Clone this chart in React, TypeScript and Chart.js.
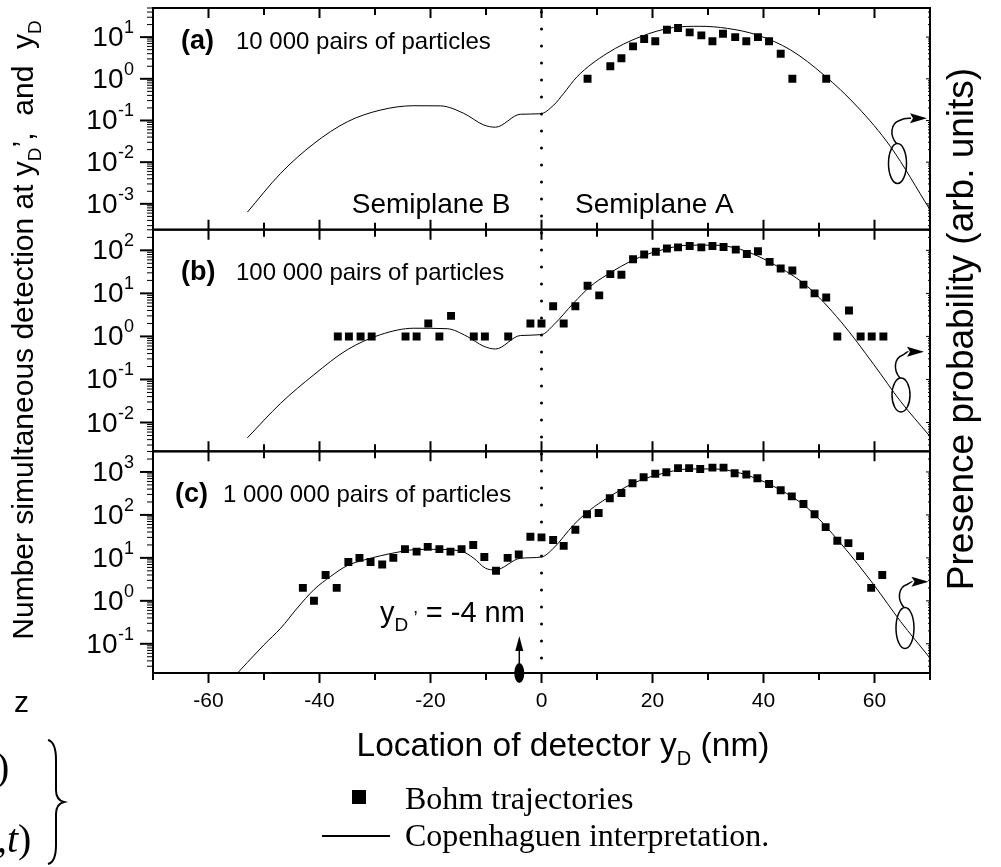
import React, { useEffect, useRef } from 'react';
import { Chart, registerables } from 'chart.js';

Chart.register(...registerables);

// ---------- axis setup ----------
const X_MIN = -70;
const X_MAX = 70;
const xMajorTicks = [-60, -40, -20, 0, 20, 40, 60];
const xMinorTicks = [-70, -50, -30, -10, 10, 30, 50, 70];
const xTickLabels = ['-60', '-40', '-20', '0', '20', '40', '60'];

const panelIds = ['ya', 'yb', 'yc'];
const panelLetters = ['(a)', '(b)', '(c)'];
const panelCaptions = ['10 000 pairs of particles', '100 000 pairs of particles', '1 000 000 pairs of particles'];
const panelYMin = [2.4e-4, 2.14e-3, 2.09e-2];
const panelYMax = [50, 302, 3020];

// ---------- panel (a) ----------
const bohmAx = [8.3, 12.4, 14.4, 16.5, 18.5, 20.5, 22.6, 24.6, 26.7, 28.8, 30.8, 32.7, 34.9, 36.9, 39, 41, 43.1, 45.2, 51.3];
const bohmAy = [1, 2, 3.1, 6, 9, 8, 15, 16.5, 13, 11, 8, 12, 10, 8, 10, 8, 4, 1, 1];
const copAx = [-53, -47, -41, -35, -29, -23, -18.2, -14, -10.4, -8.3, -3.8, -0.2, 2.2, 4, 6.4, 11.8, 17.8, 23.8, 28.6, 33.5, 38.9, 44.9, 50.9, 56.9, 62.9, 70];
const copAy = [0.00063, 0.0054, 0.028, 0.093, 0.178, 0.226, 0.224, 0.148, 0.078, 0.069, 0.141, 0.145, 0.234, 0.447, 1.12, 4.07, 10.2, 17.0, 18.2, 16.2, 11.2, 4.9, 1.23, 0.214, 0.0234, 0.00072];

// ---------- panel (b) ----------
const bohmBx = [-36.7, -34.7, -32.6, -30.6, -24.5, -22.5, -20.4, -18.4, -16.3, -12.2, -10.2, -6, -2, 0, 2.1, 4, 6.1, 8.3, 10.4, 12.4, 14.4, 16.5, 18.5, 20.6, 22.6, 24.6, 26.7, 28.8, 30.8, 32.8, 35, 37, 39, 41.1, 43.1, 45.2, 47.2, 49.2, 51.3, 53.3, 55.4, 57.5, 59.5, 61.6];
const bohmBy = [1, 1, 1, 1, 1, 1, 2, 1, 3, 1, 1, 1, 2, 2, 5, 2, 5, 15, 9, 28, 27, 62, 80, 93, 110, 117, 126, 117, 126, 120, 104, 82, 95, 54, 38, 34, 16, 10, 8, 1, 4, 1, 1, 1];
const copBx = [-53, -47, -41, -35, -29, -23, -17, -13.4, -10.4, -8.3, -3.8, 0, 2.2, 5.8, 8.8, 11.8, 16.6, 20.8, 26.8, 31, 35.9, 41.9, 47.9, 53.9, 59.9, 64.7, 69.8];
const copBy = [0.0044, 0.028, 0.129, 0.49, 1.1, 1.55, 1.51, 1.0, 0.59, 0.51, 1.05, 1.1, 1.86, 6.0, 14.5, 27, 60, 95, 132, 132, 105, 47, 14.5, 2.24, 0.22, 0.031, 0.0051];

// ---------- panel (c) ----------
const bohmCx = [-43, -41, -38.9, -36.9, -34.8, -32.8, -30.8, -28.7, -26.7, -24.6, -22.5, -20.5, -18.4, -16.4, -14.4, -12.3, -10.3, -8.2, -6.1, -4.1, -2, 0, 2.1, 4, 6.1, 8.2, 10.3, 12.3, 14.4, 16.4, 18.4, 20.5, 22.5, 24.6, 26.6, 28.6, 30.8, 32.8, 34.8, 36.9, 38.9, 41, 43.1, 45.1, 47.2, 49.2, 51.2, 53.3, 55.3, 57.4, 59.4, 61.4];
const bohmCy = [2, 1, 4, 2, 8, 10, 8, 7, 10, 16, 14, 18, 16, 14, 16, 20, 10.5, 5, 10, 12, 31, 30, 26, 19, 45, 104, 111, 245, 325, 545, 755, 910, 985, 1230, 1230, 1175, 1260, 1260, 935, 870, 715, 525, 375, 270, 180, 104, 52, 25, 22, 11, 2, 4];
const copCx = [-56, -50, -47, -44, -41, -38, -35, -32, -29, -26, -23, -19.4, -14.6, -12.2, -10.1, -8.3, -3.8, 0, 2.2, 5.8, 8.8, 11.8, 16.6, 20.8, 26.8, 31, 35.9, 41.9, 47.9, 53.9, 59.9, 64.7, 69.8];
const copCy = [0.014, 0.095, 0.23, 0.68, 1.82, 3.7, 6.6, 8.9, 11.2, 13.5, 15.5, 15.8, 14.5, 9.8, 5.75, 5.25, 9.8, 10.5, 17, 59, 132, 245, 550, 850, 1175, 1175, 933, 457, 145, 21.9, 2.34, 0.33, 0.05];

const bohmX = [bohmAx, bohmBx, bohmCx];
const bohmY = [bohmAy, bohmBy, bohmCy];
const copX = [copAx, copBx, copCx];
const copY = [copAy, copBy, copCy];

const markerX = -4; // y_D' position

const SANS = '"Liberation Sans", Arial, sans-serif';
const SERIF = '"Liberation Serif", "Times New Roman", serif';

type Seg = { t: string; size: number; dy?: number; bold?: boolean; italic?: boolean; fam?: string };

function fontOf(s: Seg) {
  return `${s.italic ? 'italic ' : ''}${s.bold ? 'bold ' : ''}${s.size}px ${s.fam || SANS}`;
}
function richWidth(ctx: CanvasRenderingContext2D, segs: Seg[]) {
  let w = 0;
  for (const s of segs) { ctx.font = fontOf(s); w += ctx.measureText(s.t).width; }
  return w;
}
function drawRich(ctx: CanvasRenderingContext2D, segs: Seg[], x: number, y: number, align: 'left' | 'right' | 'center' = 'left') {
  const w = richWidth(ctx, segs);
  let cx = align === 'left' ? x : align === 'right' ? x - w : x - w / 2;
  ctx.textAlign = 'left';
  ctx.textBaseline = 'alphabetic';
  for (const s of segs) {
    ctx.font = fontOf(s);
    ctx.fillText(s.t, cx, y + (s.dy || 0));
    cx += ctx.measureText(s.t).width;
  }
  return w;
}

function curlyArrow(ctx: CanvasRenderingContext2D, cx: number, cy: number, rx: number, ry: number, tipX: number, tipY: number) {
  ctx.lineWidth = 1.5;
  ctx.beginPath();
  ctx.ellipse(cx, cy, rx, ry, 0, 0, Math.PI * 2);
  ctx.stroke();
  const sx = cx - 1, sy = cy - ry;
  const baseX = tipX - 17;
  ctx.beginPath();
  ctx.moveTo(sx, sy);
  ctx.bezierCurveTo(sx - 7, sy - 8, sx - 6, sy - 20, sx + 3, sy - 23);
  ctx.quadraticCurveTo(sx + 8, tipY - 0.5, baseX + 1, tipY);
  ctx.stroke();
  ctx.beginPath();
  ctx.moveTo(tipX, tipY);
  ctx.lineTo(baseX, tipY - 5);
  ctx.lineTo(baseX + 3, tipY);
  ctx.lineTo(baseX, tipY + 5);
  ctx.closePath();
  ctx.fill();
}

const decor = {
  id: 'decor',
  afterDatasetsDraw(chart: any) {
    const ctx: CanvasRenderingContext2D = chart.ctx;
    const xs = chart.scales.x;
    const { left, right, top, bottom } = chart.chartArea;
    ctx.save();
    ctx.fillStyle = '#000';
    ctx.strokeStyle = '#000';

    // dotted line at x = 0
    const x0 = xs.getPixelForValue(0);
    ctx.save();
    ctx.lineWidth = 3;
    ctx.lineCap = 'round';
    ctx.setLineDash([0, 17]);
    ctx.beginPath();
    ctx.moveTo(x0, top + 4);
    ctx.lineTo(x0, bottom);
    ctx.stroke();
    ctx.restore();

    panelIds.forEach((id, i) => {
      const ys = chart.scales[id];
      const pt = ys.top, pb = ys.bottom;
      // frame
      ctx.lineWidth = 2;
      ctx.strokeRect(left, pt, right - left, pb - pt);
      // x ticks (inside top, inside bottom except last panel -> outside)
      ctx.lineWidth = 2;
      const tick = (v: number, len: number) => {
        const px = xs.getPixelForValue(v);
        ctx.beginPath();
        ctx.moveTo(px, pt); ctx.lineTo(px, pt + len);
        if (i < 2) { ctx.moveTo(px, pb); ctx.lineTo(px, pb - len); }
        else { ctx.moveTo(px, pb); ctx.lineTo(px, pb + len); }
        ctx.stroke();
      };
      xMajorTicks.forEach(v => tick(v, 10));
      xMinorTicks.forEach(v => tick(v, 7));

      // y log ticks, outward on the left
      const lo = Math.floor(Math.log10(panelYMin[i]));
      const hi = Math.ceil(Math.log10(panelYMax[i]));
      for (let d = lo; d <= hi; d++) {
        for (let m = 1; m <= 9; m++) {
          const v = m * Math.pow(10, d);
          if (v < panelYMin[i] || v > panelYMax[i]) continue;
          const py = ys.getPixelForValue(v);
          ctx.lineWidth = m === 1 ? 2 : 1;
          ctx.beginPath();
          ctx.moveTo(left - (m === 1 ? 13 : 6), py);
          ctx.lineTo(left, py);
          ctx.stroke();
          // right axis small inward ticks
          ctx.lineWidth = 1;
          ctx.beginPath();
          ctx.moveTo(right, py);
          ctx.lineTo(right - (m === 1 ? 4 : 2), py);
          ctx.stroke();
          if (m === 1) {
            ctx.font = `18px ${SANS}`;
            const e = String(d);
            const ew = ctx.measureText(e).width;
            ctx.textAlign = 'right';
            ctx.textBaseline = 'alphabetic';
            ctx.fillText(e, 134, py - 4);
            ctx.font = `28px ${SANS}`;
            ctx.fillText('10', 134 - ew - 0.5, py + 9);
          }
        }
      }

      // panel labels
      const baseY = [49, 280, 502][i];
      drawRich(ctx, [{ t: panelLetters[i], size: 27, bold: true }], i === 2 ? 175 : 181, baseY);
      drawRich(ctx, [{ t: panelCaptions[i], size: 24 }], i === 2 ? 223 : 236, baseY);

      // curly arrows with ellipses
      const ell = [[897.5, 163.5, 9, 20, 927, 118.3], [901, 395, 9, 17, 924, 351.7], [905, 628, 9, 20.5, 928.5, 581.7]][i];
      curlyArrow(ctx, ell[0], ell[1], ell[2], ell[3], ell[4], ell[5]);
    });

    // semiplane labels
    drawRich(ctx, [{ t: 'Semiplane B', size: 28 }], 351.7, 213.3);
    drawRich(ctx, [{ t: 'Semiplane A', size: 28 }], 575, 213.3);

    // y_D' marker in panel (c)
    const ycs = chart.scales.yc;
    const mx = xs.getPixelForValue(markerX);
    ctx.beginPath();
    ctx.ellipse(mx, ycs.bottom, 5, 10, 0, 0, Math.PI * 2);
    ctx.fill();
    ctx.lineWidth = 1.5;
    ctx.beginPath();
    ctx.moveTo(mx, ycs.bottom - 8);
    ctx.lineTo(mx, ycs.bottom - 24);
    ctx.stroke();
    ctx.beginPath();
    ctx.moveTo(mx, ycs.bottom - 37);
    ctx.lineTo(mx - 4, ycs.bottom - 22);
    ctx.lineTo(mx + 4, ycs.bottom - 22);
    ctx.closePath();
    ctx.fill();
    drawRich(ctx, [
      { t: 'y', size: 29 },
      { t: 'D', size: 19, dy: 9 },
      { t: ' \u2019', size: 19, dy: 2 },
      { t: ' = -4 nm', size: 29 },
    ], 380, 621.7);

    // x tick labels
    xMajorTicks.forEach((v, k) => {
      const px = xs.getPixelForValue(v);
      ctx.font = `21px ${SANS}`;
      ctx.textAlign = 'center';
      ctx.textBaseline = 'alphabetic';
      ctx.fillText(xTickLabels[k], px, 707);
    });

    // x title
    drawRich(ctx, [
      { t: 'Location of detector y', size: 33.5 },
      { t: 'D', size: 20, dy: 9 },
      { t: ' (nm)', size: 33.5 },
    ], 563, 756, 'center');

    // left title (rotated)
    ctx.save();
    ctx.translate(33, 330);
    ctx.rotate(-Math.PI / 2);
    drawRich(ctx, [
      { t: 'Number simultaneous detection at y', size: 30 },
      { t: 'D', size: 19, dy: 8 },
      { t: '\u2019,  and  y', size: 30 },
      { t: 'D', size: 19, dy: 8 },
    ], 0, 0, 'center');
    ctx.restore();

    // right title (rotated)
    ctx.save();
    ctx.translate(973, 329);
    ctx.rotate(-Math.PI / 2);
    drawRich(ctx, [{ t: 'Presence probability (arb. units)', size: 37 }], 0, 0, 'center');
    ctx.restore();

    // legend
    ctx.fillRect(352, 790, 14, 14);
    drawRich(ctx, [{ t: 'Bohm trajectories', size: 32, fam: SERIF }], 405, 809);
    ctx.lineWidth = 2;
    ctx.beginPath();
    ctx.moveTo(322, 836);
    ctx.lineTo(390, 836);
    ctx.stroke();
    drawRich(ctx, [{ t: 'Copenhaguen interpretation.', size: 32, fam: SERIF }], 405, 846);

    // cropped equation fragments at bottom left
    drawRich(ctx, [{ t: 'z', size: 30 }], 14, 712);
    drawRich(ctx, [{ t: ')', size: 40, fam: SERIF }], -4, 780);
    drawRich(ctx, [{ t: ',', size: 40, fam: SERIF }, { t: 't', size: 40, fam: SERIF, italic: true }, { t: ')', size: 40, fam: SERIF }], -3, 852);
    ctx.lineWidth = 2;
    ctx.beginPath();
    ctx.moveTo(48, 740);
    ctx.quadraticCurveTo(56, 742, 56, 760);
    ctx.lineTo(56, 790);
    ctx.quadraticCurveTo(56, 800, 64, 802);
    ctx.quadraticCurveTo(56, 804, 56, 814);
    ctx.lineTo(56, 845);
    ctx.quadraticCurveTo(56, 862, 48, 864);
    ctx.stroke();

    ctx.restore();
  },
};

export default function App() {
  const ref = useRef<HTMLCanvasElement | null>(null);
  useEffect(() => {
    if (!ref.current) return;
    const datasets: any[] = [];
    panelIds.forEach((id, i) => {
      datasets.push({
        type: 'line',
        data: copX[i].map((x, j) => ({ x, y: copY[i][j] })),
        yAxisID: id,
        borderColor: '#000',
        borderWidth: 1,
        pointRadius: 0,
        cubicInterpolationMode: 'monotone',
        fill: false,
      });
      datasets.push({
        type: 'scatter',
        data: bohmX[i].map((x, j) => ({ x, y: bohmY[i][j] })),
        yAxisID: id,
        pointStyle: 'rect',
        pointRadius: 5.6,
        backgroundColor: '#000',
        borderWidth: 0,
        showLine: false,
      });
    });
    const ylog = (i: number) => ({
      type: 'logarithmic',
      min: panelYMin[i],
      max: panelYMax[i],
      position: 'left',
      stack: 'panels',
      stackWeight: 1,
      display: false,
    });
    const chart = new Chart(ref.current, {
      type: 'scatter',
      data: { datasets },
      options: {
        responsive: false,
        animation: false,
        devicePixelRatio: 1,
        events: [],
        layout: { padding: { left: 153, right: 71, top: 8, bottom: 194 } },
        plugins: { legend: { display: false }, tooltip: { enabled: false } },
        scales: {
          x: { type: 'linear', min: X_MIN, max: X_MAX, display: false },
          yc: ylog(2),
          yb: ylog(1),
          ya: ylog(0),
        } as any,
      },
      plugins: [decor],
    } as any);
    return () => chart.destroy();
  }, []);
  return (
    <div style={{ position: 'fixed', left: 0, top: 0, width: 1001, height: 867, background: '#fff' }}>
      <canvas ref={ref} width={1001} height={867} style={{ width: 1001, height: 867, display: 'block' }} />
    </div>
  );
}
